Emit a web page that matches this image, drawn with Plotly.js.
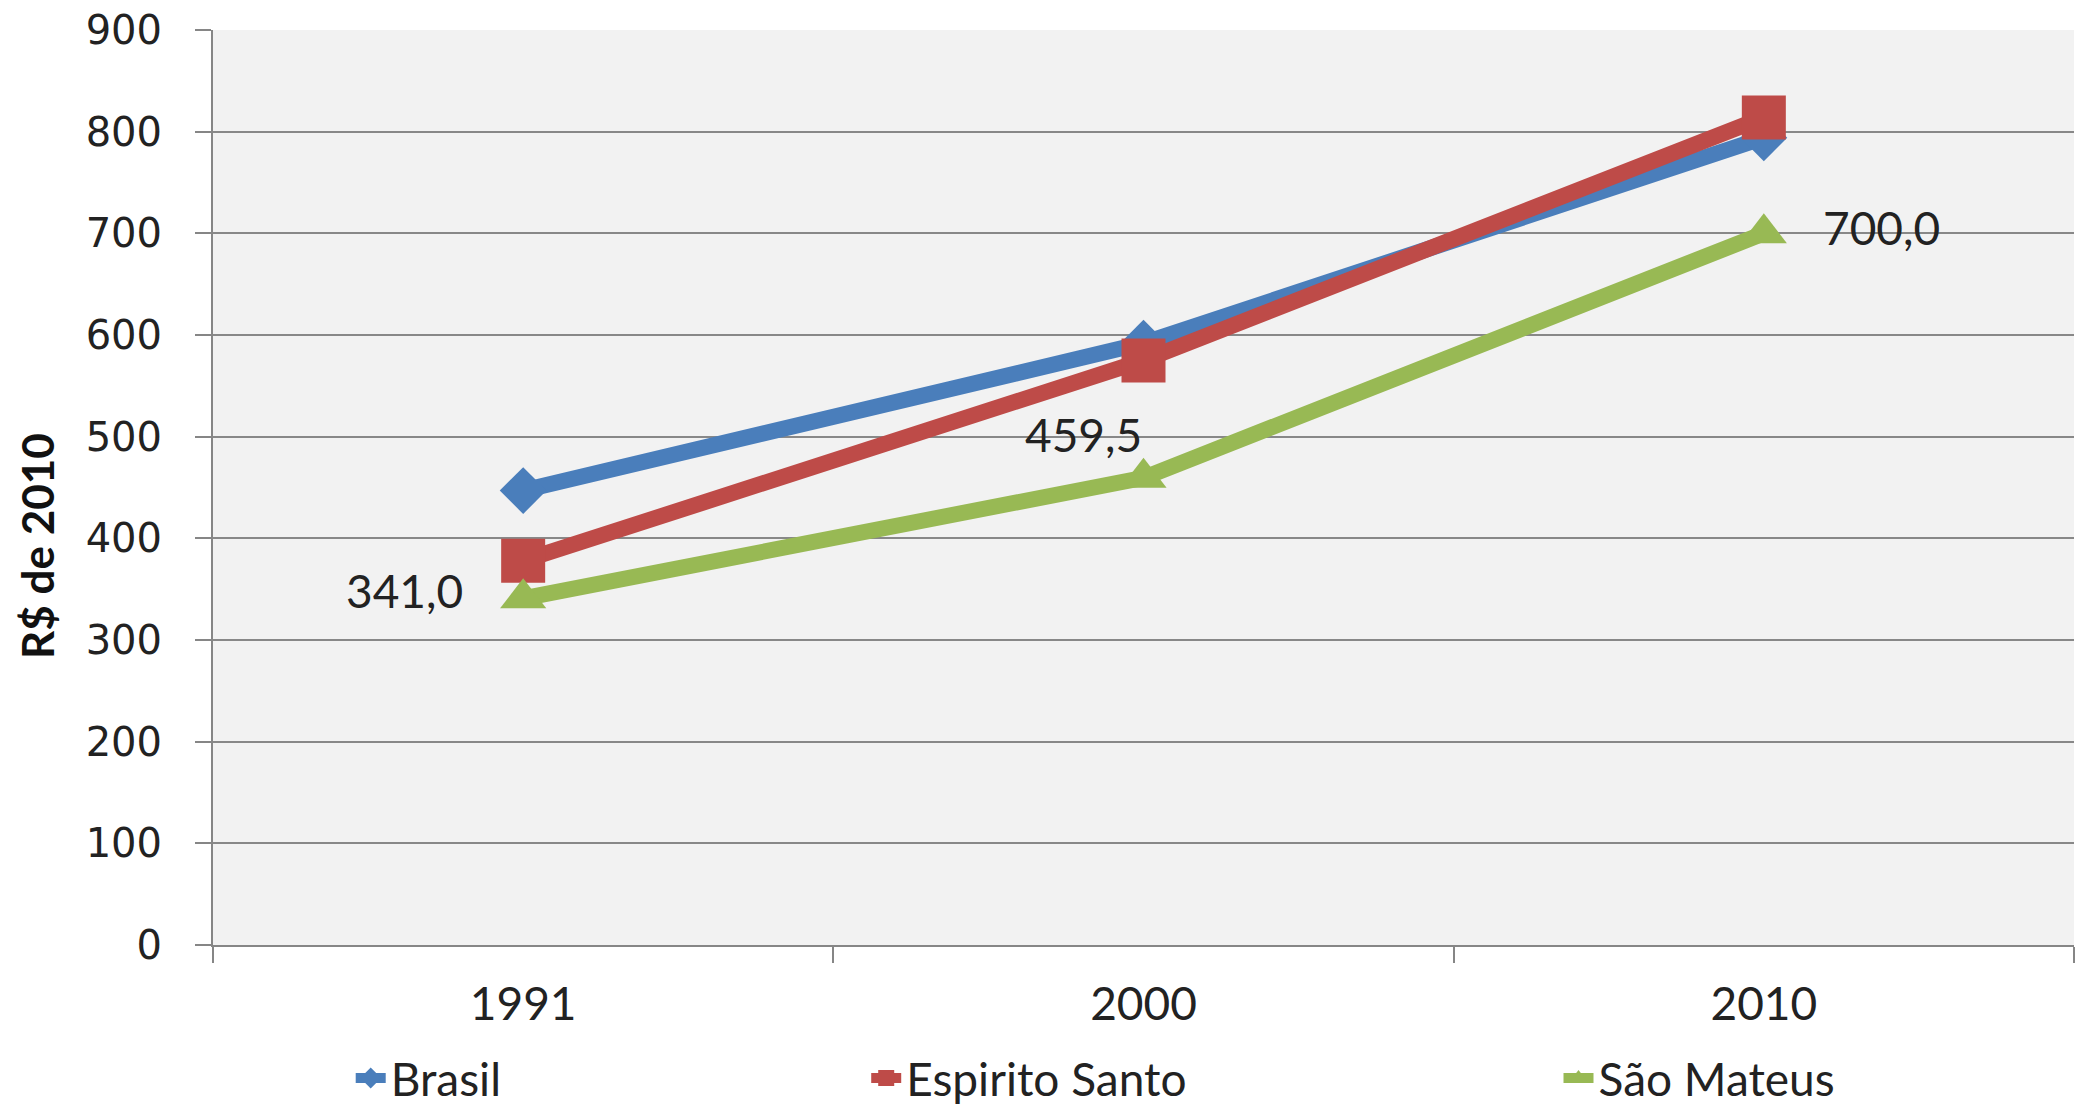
<!DOCTYPE html>
<html>
<head>
<meta charset="utf-8">
<script src="https://cdn.plot.ly/plotly-3.0.1.min.js"></script>
<style>html,body{margin:0;padding:0;background:#fff;}#chart{width:2085px;height:1108px;}</style>
</head>
<body>
<div id="chart"></div>
<script>
var years = ['1991', '2000', '2010'];
var brasil = [447, 592, 794];
var espiritoSanto = [378, 575, 814];
var saoMateus = [341.0, 459.5, 700.0];
var seriesNames = ['Brasil', 'Espirito Santo', 'São Mateus'];
var yTicks = [0, 100, 200, 300, 400, 500, 600, 700, 800, 900];
var yTitle = 'R$ de 2010';

var narrow = 'Lato, "Open Sans", sans-serif';

var traces = [
  {x: years, y: brasil, name: seriesNames[0], type: 'scatter', mode: 'lines+markers',
   line: {color: '#4A7EBB', width: 16}, marker: {symbol: 'diamond', size: 36, color: '#4A7EBB'}, legend: 'legend'},
  {x: years, y: espiritoSanto, name: seriesNames[1], type: 'scatter', mode: 'lines+markers',
   line: {color: '#BE4B48', width: 16}, marker: {symbol: 'square', size: 44, color: '#BE4B48'}, legend: 'legend2'},
  {x: years, y: saoMateus, name: seriesNames[2], type: 'scatter', mode: 'lines+markers',
   line: {color: '#98B954', width: 16}, marker: {symbol: 'triangle-up', size: 40, color: '#98B954'}, legend: 'legend3'}
];

var labelPlacement = [
  {xanchor: 'right', xshift: -58, yshift: 8},
  {xanchor: 'right', xshift: 0, yshift: 43},
  {xanchor: 'left', xshift: 57, yshift: 6}
];
var annotations = saoMateus.map(function (v, i) {
  return {
    x: i, y: v, xref: 'x', yref: 'y',
    text: v.toFixed(1).replace('.', ','),
    showarrow: false,
    xanchor: labelPlacement[i].xanchor, yanchor: 'middle',
    xshift: labelPlacement[i].xshift, yshift: labelPlacement[i].yshift,
    font: {family: narrow, size: 46, color: '#222222'}
  };
});
annotations.push({
  text: yTitle, xref: 'paper', yref: 'paper', x: -0.0946, y: 0.436,
  xanchor: 'center', yanchor: 'middle', textangle: -90, showarrow: false,
  font: {family: narrow, size: 44, color: '#111111', weight: 'bold'}
});

function legendAt(x) {
  return {x: x, y: 0.027, xref: 'paper', yref: 'container', xanchor: 'left', yanchor: 'middle', orientation: 'h',
          bgcolor: 'rgba(0,0,0,0)', font: {family: narrow, size: 46, color: '#222222'}};
}

var layout = {
  width: 2085, height: 1108,
  margin: {l: 213, r: 11, t: 30, b: 163},
  paper_bgcolor: '#ffffff',
  plot_bgcolor: '#F2F2F2',
  showlegend: true,
  xaxis: {
    type: 'category', range: [-0.5, 2.5],
    showgrid: false, zeroline: false,
    showline: true, linecolor: '#868686', linewidth: 2,
    ticks: 'outside', tickson: 'boundaries', ticklen: 16, tickcolor: '#868686', tickwidth: 2,
    ticklabelstandoff: 18,
    tickfont: {family: narrow, size: 46, color: '#222222'}
  },
  yaxis: {
    range: [0, 900], tickvals: yTicks, ticktext: yTicks.map(String),
    showgrid: true, gridcolor: '#888888', gridwidth: 2,
    zeroline: false, showline: true, linecolor: '#868686', linewidth: 2,
    ticks: 'outside', ticklen: 16, tickcolor: '#868686', tickwidth: 2,
    ticklabelstandoff: 25,
    tickfont: {family: '"DejaVu Sans", Verdana, sans-serif', size: 40, color: '#222222'}
  },
  legend: legendAt(0.074),
  legend2: legendAt(0.351),
  legend3: legendAt(0.723),
  annotations: annotations
};

Plotly.newPlot('chart', traces, layout, {displayModeBar: false, staticPlot: true});
</script>
</body>
</html>
